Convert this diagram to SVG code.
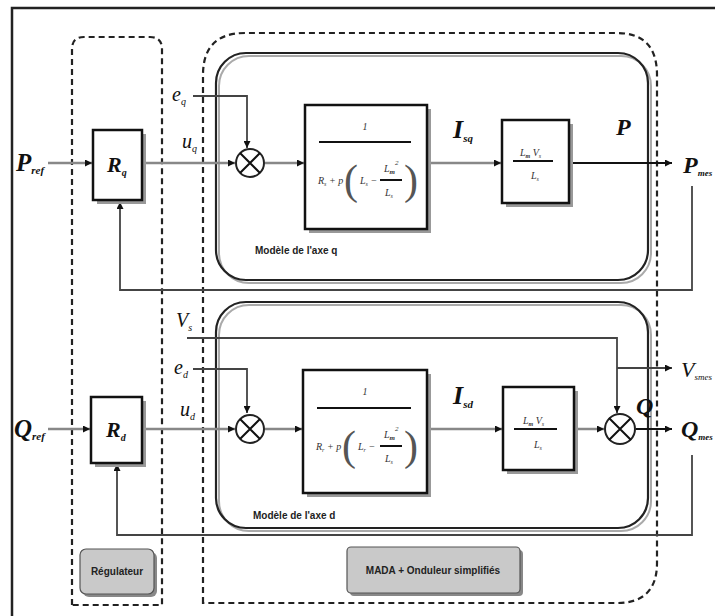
<svg xmlns="http://www.w3.org/2000/svg" width="715" height="616" viewBox="0 0 715 616">
<defs>
<marker id="arr" viewBox="0 0 10 10" refX="10" refY="5" markerWidth="7" markerHeight="7" markerUnits="userSpaceOnUse" orient="auto">
<path d="M0,0 L10,5 L0,10 z" fill="#111"/>
</marker>
</defs>
<style>
.frame{fill:none;stroke:#222;stroke-width:2.5}
.dash{fill:none;stroke:#222;stroke-width:2.2;stroke-dasharray:6 4}
.inner{fill:none;stroke:#222;stroke-width:2.2}
.innersh{fill:none;stroke:#aaa;stroke-width:2}
.blk{fill:#fff;stroke:#111;stroke-width:2.5}
.sh{fill:#999;stroke:none}
.ln{fill:none;stroke:#444;stroke-width:1.8}
.lng{fill:none;stroke:#888;stroke-width:2.5}
.lnb{fill:none;stroke:#111;stroke-width:2}
.sum{fill:#fff;stroke:#222;stroke-width:2}
.lab{font-family:"Liberation Serif",serif;font-style:italic;fill:#111}
.big{font-weight:bold}
.f{font-family:"Liberation Serif",serif;font-style:italic;fill:#333;font-size:10px}
.par{font-family:"Liberation Serif",serif;font-size:42px;fill:#555}
.cap{font-family:"Liberation Sans",sans-serif;font-weight:bold;font-size:10px;fill:#222}
.tag{fill:#c9c9c9;stroke:#555;stroke-width:1.2}
</style>

<!-- outer frame (top & left edges) -->
<path class="frame" d="M12,616 V8 H715"/>

<!-- dashed groups -->
<g id="regulateur-zone">
<path class="dash" d="M72,605 V49 Q72,37 84,37 H150 Q162,37 162,49 V605 Z"/>
</g>
<g id="mada-zone">
<path class="dash" d="M203,603 V75 Q203,33 245,33 H617 Q657,33 657,75 V563 Q657,603 617,603 Z"/>
</g>

<!-- inner models -->
<g id="modele-q">
<rect class="innersh" x="219" y="56" width="432" height="227" rx="30"/>
<rect class="inner" x="216" y="53" width="432" height="227" rx="30"/>
<text class="cap" x="255" y="254">Modèle de l'axe q</text>
</g>
<g id="modele-d">
<rect class="innersh" x="219" y="305" width="432" height="226" rx="30"/>
<rect class="inner" x="216" y="302" width="432" height="226" rx="30"/>
<text class="cap" x="253" y="519">Modèle de l'axe d</text>
</g>

<!-- connectors -->
<g id="connectors">
<!-- q axis -->
<path class="lng" d="M48,163 H92" marker-end="url(#arr)"/>
<path class="lng" d="M142,163 H235" marker-end="url(#arr)"/>
<path class="ln" d="M193,96 H247 V148" marker-end="url(#arr)"/>
<path class="lng" d="M265,163 H304" marker-end="url(#arr)"/>
<path class="lng" d="M428,163 H501" marker-end="url(#arr)"/>
<path class="lnb" d="M570,163 H672" marker-end="url(#arr)"/>
<path class="ln" d="M692,186 V290 H120 V202" marker-end="url(#arr)"/>
<!-- d axis -->
<path class="lng" d="M48,429 H90" marker-end="url(#arr)"/>
<path class="lng" d="M142,429 H235" marker-end="url(#arr)"/>
<path class="ln" d="M187,338 H617 V413" marker-end="url(#arr)"/>
<path class="ln" d="M617,368 H672" marker-end="url(#arr)"/>
<path class="ln" d="M193,369 H247 V413" marker-end="url(#arr)"/>
<path class="lng" d="M265,429 H302" marker-end="url(#arr)"/>
<path class="lng" d="M428,429 H502" marker-end="url(#arr)"/>
<path class="lng" d="M575,429 H604" marker-end="url(#arr)"/>
<path class="lnb" d="M636,429 H672" marker-end="url(#arr)"/>
<path class="ln" d="M692,455 V535 H117 V464" marker-end="url(#arr)"/>
</g>

<!-- external labels -->
<g id="labels">
<text class="lab big" x="16" y="171" font-size="25">P<tspan font-size="11" dy="3">ref</tspan></text>
<text class="lab big" x="14" y="437" font-size="25">Q<tspan font-size="11" dy="3">ref</tspan></text>
<text class="lab" x="172" y="101" font-size="20">e<tspan font-size="10" dy="4">q</tspan></text>
<text class="lab" x="182" y="148" font-size="20">u<tspan font-size="10" dy="4">q</tspan></text>
<text class="lab" x="176" y="327" font-size="20">V<tspan font-size="10" dy="4">s</tspan></text>
<text class="lab" x="174" y="374" font-size="20">e<tspan font-size="10" dy="4">d</tspan></text>
<text class="lab" x="180" y="416" font-size="20">u<tspan font-size="10" dy="4">d</tspan></text>
<text class="lab big" x="453" y="138" font-size="26">I<tspan font-size="11" dy="4">sq</tspan></text>
<text class="lab big" x="453" y="404" font-size="26">I<tspan font-size="11" dy="4">sd</tspan></text>
<text class="lab big" x="616" y="135" font-size="24">P</text>
<text class="lab big" x="636" y="414" font-size="24">Q</text>
<text class="lab big" x="683" y="173" font-size="24">P<tspan font-size="9" dy="3">mes</tspan></text>
<text class="lab" x="681" y="377" font-size="22">V<tspan font-size="9" dy="3">smes</tspan></text>
<text class="lab big" x="681" y="437" font-size="24">Q<tspan font-size="9" dy="3">mes</tspan></text>
</g>

<!-- regulator blocks -->
<g id="Rq">
<rect class="sh" x="97" y="134" width="49" height="70"/>
<rect class="blk" x="93" y="130" width="49" height="70"/>
<text class="lab big" x="107" y="172" font-size="22">R<tspan font-size="10" dy="4">q</tspan></text>
</g>
<g id="Rd">
<rect class="sh" x="95" y="401" width="51" height="66"/>
<rect class="blk" x="91" y="397" width="51" height="66"/>
<text class="lab big" x="106" y="437" font-size="22">R<tspan font-size="10" dy="4">d</tspan></text>
</g>

<!-- summing junctions -->
<g id="sum-q">
<circle class="sum" cx="250" cy="163" r="14"/>
<path class="lnb" d="M240,153 L260,173 M260,153 L240,173"/>
</g>
<g id="sum-d">
<circle class="sum" cx="250" cy="429" r="14"/>
<path class="lnb" d="M240,419 L260,439 M260,419 L240,439"/>
</g>
<g id="sum-Q">
<circle class="sum" cx="620" cy="429" r="15"/>
<path class="lnb" d="M609,418 L631,440 M631,418 L609,440"/>
</g>

<!-- transfer blocks -->
<g id="tf-q">
<rect class="sh" x="309" y="109" width="122" height="124"/>
<rect class="blk" x="305" y="105" width="122" height="124"/>
<text class="f" x="365" y="130" text-anchor="middle">1</text>
<line x1="319" y1="142" x2="411" y2="142" stroke="#111" stroke-width="2"/>
<text class="f" x="318" y="184">R<tspan font-size="6" dy="2">s</tspan><tspan dy="-2"> + p</tspan></text>
<text class="par" x="344" y="194">(</text>
<text class="f" x="360" y="184">L<tspan font-size="6" dy="2">s</tspan><tspan dy="-2"> −</tspan></text>
<text class="f" x="384" y="172">L<tspan font-size="7" dy="2" font-weight="bold">m</tspan><tspan font-size="7" dy="-9">2</tspan></text>
<line x1="380" y1="180" x2="402" y2="180" stroke="#111" stroke-width="2"/>
<text class="f" x="385" y="196">L<tspan font-size="6" dy="2">s</tspan></text>
<text class="par" x="404" y="194">)</text>
</g>
<g id="tf-d">
<rect class="sh" x="307" y="374" width="124" height="123"/>
<rect class="blk" x="303" y="370" width="124" height="123"/>
<text class="f" x="365" y="395" text-anchor="middle">1</text>
<line x1="317" y1="408" x2="411" y2="408" stroke="#111" stroke-width="2"/>
<text class="f" x="316" y="450">R<tspan font-size="6" dy="2">r</tspan><tspan dy="-2"> + p</tspan></text>
<text class="par" x="342" y="460">(</text>
<text class="f" x="358" y="450">L<tspan font-size="6" dy="2">r</tspan><tspan dy="-2"> −</tspan></text>
<text class="f" x="384" y="438">L<tspan font-size="7" dy="2" font-weight="bold">m</tspan><tspan font-size="7" dy="-9">2</tspan></text>
<line x1="380" y1="446" x2="402" y2="446" stroke="#111" stroke-width="2"/>
<text class="f" x="385" y="462">L<tspan font-size="6" dy="2">s</tspan></text>
<text class="par" x="404" y="460">)</text>
</g>

<!-- gain blocks -->
<g id="gain-q">
<rect class="sh" x="506" y="124" width="67" height="83"/>
<rect class="blk" x="502" y="120" width="67" height="83"/>
<text class="f" x="520" y="156">L<tspan font-size="6" dy="2" font-weight="bold">m</tspan><tspan dy="-2"> V</tspan><tspan font-size="6" dy="2">s</tspan></text>
<line x1="513" y1="161" x2="553" y2="161" stroke="#111" stroke-width="2"/>
<text class="f" x="531" y="179">L<tspan font-size="6" dy="2">s</tspan></text>
</g>
<g id="gain-d">
<rect class="sh" x="507" y="391" width="71" height="83"/>
<rect class="blk" x="503" y="387" width="71" height="83"/>
<text class="f" x="523" y="424">L<tspan font-size="6" dy="2" font-weight="bold">m</tspan><tspan dy="-2"> V</tspan><tspan font-size="6" dy="2">s</tspan></text>
<line x1="514" y1="429" x2="557" y2="429" stroke="#111" stroke-width="2"/>
<text class="f" x="534" y="448">L<tspan font-size="6" dy="2">s</tspan></text>
</g>

<!-- caption tags -->
<g id="tag-regulateur">
<rect x="83" y="552" width="74" height="45" rx="6" fill="#888"/>
<rect class="tag" x="80" y="549" width="74" height="45" rx="6"/>
<text class="cap" x="117" y="575" text-anchor="middle">Régulateur</text>
</g>
<g id="tag-mada">
<rect x="350" y="550" width="173" height="46" rx="4" fill="#888"/>
<rect class="tag" x="347" y="547" width="173" height="46" rx="4"/>
<text class="cap" x="433" y="574" text-anchor="middle">MADA + Onduleur simplifiés</text>
</g>
</svg>
